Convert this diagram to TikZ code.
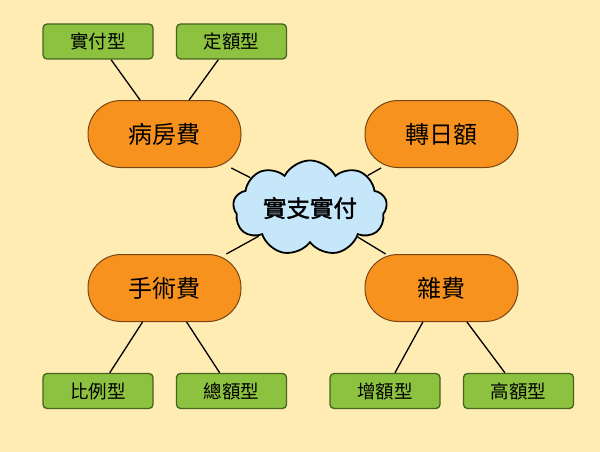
\documentclass[tikz,border=0pt]{standalone}
\usepackage{fontspec}
\setmainfont{Noto Sans CJK TC}
\newfontfamily\hubfont[FakeBold=1.6]{Noto Sans CJK TC}
\usetikzlibrary{shapes.symbols}
\definecolor{bgc}{RGB}{255,236,179}
\definecolor{greenf}{RGB}{141,194,64}
\definecolor{greend}{RGB}{70,100,30}
\definecolor{orangef}{RGB}{247,146,30}
\definecolor{oranged}{RGB}{120,70,20}
\definecolor{cloudf}{RGB}{198,230,250}
\tikzset{
  leaf/.style={draw=greend, fill=greenf, line width=1.3pt, rounded corners=4pt,
    minimum width=110pt, minimum height=35pt, inner sep=0pt, font=\fontsize{18.5}{18.5}\selectfont},
  pill/.style={draw=oranged, fill=orangef, line width=1pt, rounded corners=33pt,
    minimum width=153pt, minimum height=67pt, inner sep=0pt, font=\fontsize{24}{24}\selectfont},
  hub/.style={cloud, cloud puffs=9, cloud puff arc=125, aspect=1.85, draw=black, fill=cloudf,
    line width=1.8pt, minimum width=154pt, minimum height=82pt, inner sep=0pt,
    font=\fontsize{23.5}{23.5}\hubfont},
  link/.style={draw=black, line width=1.3pt}
}
\begin{document}
\begin{tikzpicture}[x=1pt,y=-1pt]
\fill[bgc] (0,0) rectangle (600,452);
\useasboundingbox (0,0) rectangle (600,452);
\node[hub] (c) at (310,208) {實支實付};
\node[pill] (p1) at (164.5,134) {病房費};
\node[pill] (p2) at (441.5,134) {轉日額};
\node[pill] (p3) at (164.5,288) {手術費};
\node[pill] (p4) at (441.5,288) {雜費};
\node[leaf] (l1) at (98,41.5) {實付型};
\node[leaf] (l2) at (231.5,41.5) {定額型};
\node[leaf] (l3) at (98,391) {比例型};
\node[leaf] (l4) at (231.5,391) {總額型};
\node[leaf] (l5) at (385,391) {增額型};
\node[leaf] (l6) at (518.5,391) {高額型};
\draw[link] (l1) -- (p1);
\draw[link] (l2) -- (p1);
\draw[link] (l3) -- (p3);
\draw[link] (l4) -- (p3);
\draw[link] (l5) -- (p4);
\draw[link] (l6) -- (p4);
\draw[link] (p1) -- (c);
\draw[link] (p2) -- (c);
\draw[link] (p3) -- (c);
\draw[link] (p4) -- (c);
\end{tikzpicture}
\end{document}
